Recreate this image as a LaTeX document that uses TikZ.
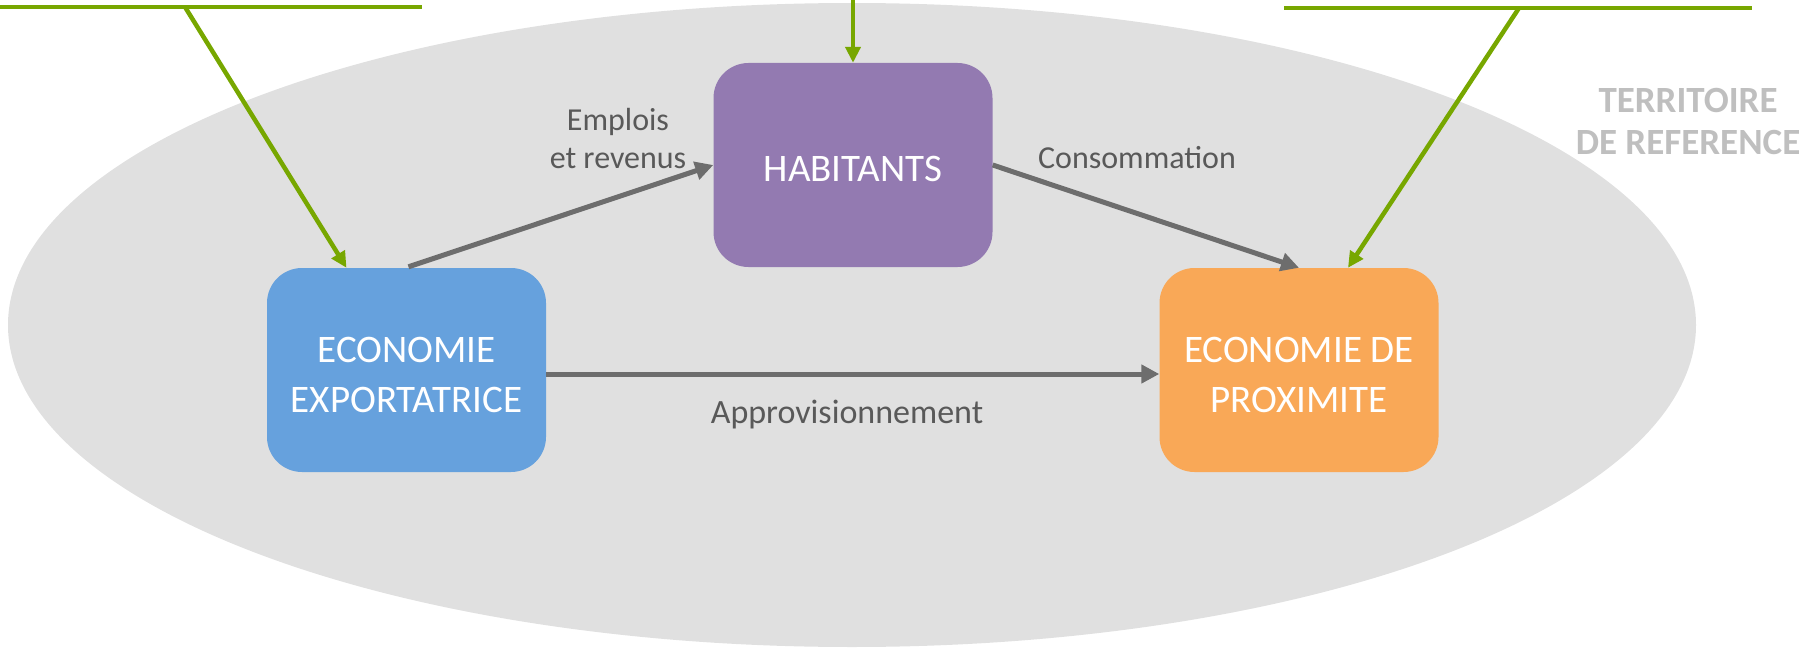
\documentclass[tikz,border=0pt]{standalone}
\usepackage{fontspec}
\setmainfont{Carlito}
\usepackage{xcolor}
\usetikzlibrary{arrows.meta,calc}

\definecolor{terrgray}{HTML}{E0E0E0}
\definecolor{expoblue}{HTML}{66A1DD}
\definecolor{habviolet}{HTML}{937AB1}
\definecolor{proxorange}{HTML}{F9A857}
\definecolor{flowgray}{HTML}{6D6D6D}
\definecolor{extgreen}{HTML}{77A700}
\definecolor{labelgray}{HTML}{595959}
\definecolor{terrlabel}{HTML}{BFBFBF}

\begin{document}
\begin{tikzpicture}[x=1pt,y=-1pt,
  bloc/.style={rounded corners=35pt, minimum width=279pt, minimum height=204pt, inner sep=0pt, text=white, align=center, font=\fontsize{39}{50}\selectfont},
  flux/.style={draw=flowgray, line width=5pt, -{Triangle[length=18pt,width=18pt]}},
  apport/.style={draw=extgreen, line width=4.5pt, -{Triangle[length=16pt,width=15pt]}},
  barre/.style={draw=extgreen, line width=4.5pt},
  etiq/.style={text=labelgray, font=\fontsize{32}{38}\selectfont, align=center, inner sep=0pt, anchor=base}]
	\useasboundingbox (0,0) rectangle (1802,650);
	\fill[terrgray] (852,325) ellipse [x radius=844pt, y radius=322pt];
	\node[text=terrlabel, font=\bfseries\fontsize{37}{43}\selectfont, align=center, inner sep=0pt, anchor=base] (terr) at (1688,155) {TERRITOIRE\\DE REFERENCE};
	\node[bloc, fill=expoblue] (expo) at (406.5,370) {\rule{0pt}{36pt}ECONOMIE\\EXPORTATRICE};
	\node[bloc, fill=habviolet] (hab) at (853,165) {\rule{0pt}{34pt}HABITANTS};
	\node[bloc, fill=proxorange] (prox) at (1299,370) {\rule{0pt}{36pt}ECONOMIE DE\\PROXIMITE};
	% flux internes
	\draw[flux] ($(expo.north)+(2,-1)$) -- (hab.west);
	\draw[flux] (hab.east) -- (prox.north);
	\draw[flux] ($(expo.east)+(0,4)$) -- ($(prox.west)+(0,4)$);
	\node[etiq] (emploi) at (618,168) {Emplois\\et revenus};
	\node[etiq] (conso) at (1137,168) {Consommation};
	\node[etiq, font=\fontsize{34}{40}\selectfont] (appro) at (847,423) {Approvisionnement};
	% apports exterieurs
	\coordinate (extW1) at (0,7);
	\coordinate (extW2) at (422,7);
	\coordinate (extWa) at (185,7);
	\coordinate (extN) at (853,0);
	\coordinate (extE1) at (1284,8);
	\coordinate (extE2) at (1752,8);
	\coordinate (extEa) at (1519,8);
	\draw[barre] (extW1) -- (extW2);
	\draw[barre] (extE1) -- (extE2);
	\draw[apport] (extWa) -- ($(expo.north)+(-60,0)$);
	\draw[apport] (extN) -- (hab.north);
	\draw[apport] (extEa) -- ($(prox.north)+(49,0)$);
\end{tikzpicture}
\end{document}
